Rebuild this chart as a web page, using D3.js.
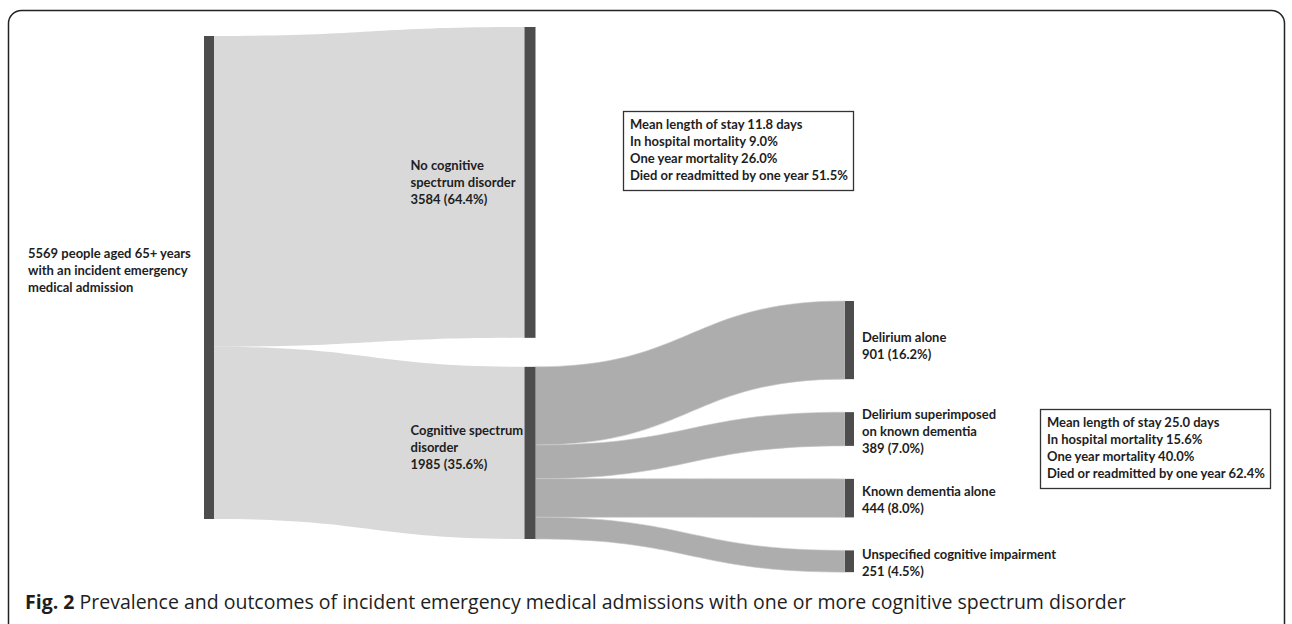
<!DOCTYPE html>
<html>
<head>
<meta charset="utf-8">
<script src="https://cdn.jsdelivr.net/npm/d3@7"></script>
<style>
body{margin:0;background:#fff;}
svg text{font-family:Lato,"Open Sans",sans-serif;fill:#1e1e1e;}
.lbl{font-weight:700;font-size:13px;}
.cap{font-family:"Open Sans",sans-serif;font-size:19.5px;}
</style>
</head>
<body>
<svg id="chart" width="1292" height="624"></svg>
<script>
(function(){
// ---- data ----
var total = 5569;
var nodeIds = ["all", "none", "csd", "delirium", "dsd", "dementia", "unspec"];
var nodeColumn = [0, 1, 1, 2, 2, 2, 2];
var nodeText = [
	["5569 people aged 65+ years", "with an incident emergency", "medical admission"],
	["No cognitive", "spectrum disorder"],
	["Cognitive spectrum", "disorder"],
	["Delirium alone"],
	["Delirium superimposed", "on known dementia"],
	["Known dementia alone"],
	["Unspecified cognitive impairment"]
];
var linkSource = ["all", "all", "csd", "csd", "csd", "csd"];
var linkTarget = ["none", "csd", "delirium", "dsd", "dementia", "unspec"];
var linkValue = [3584, 1985, 901, 389, 444, 251];

var outcomeNames = ["Mean length of stay", "In hospital mortality", "One year mortality", "Died or readmitted by one year"];
var noneOutcomes = ["11.8 days", "9.0%", "26.0%", "51.5%"];
var csdOutcomes = ["25.0 days", "15.6%", "40.0%", "62.4%"];

var caption = "Prevalence and outcomes of incident emergency medical admissions with one or more cognitive spectrum disorder";

// ---- layout ----
var colX = d3.scaleLinear().domain([0, 2]).range([204, 845]);
var colW = [10, 11, 9];
var colTop = [36, 27, 301];
var colGap = [0, 29, 33];
var labelShift = {all: -7, none: 0, csd: -5, delirium: 6, dsd: 2, dementia: 2, unspec: 2};
var ky = d3.scaleLinear().domain([0, total]).range([0, 483]);
var pct = d3.format(".1%");
var LineH = 17;

var svg = d3.select("#chart");

// frame
svg.append("rect").attr("x", 8.5).attr("y", 10.5).attr("width", 1276).attr("height", 700)
		.attr("rx", 13).attr("fill", "none").attr("stroke", "#222").attr("stroke-width", 1.5);

var nodes = nodeIds.map(function(id, i){
	return {id: id, col: nodeColumn[i], text: nodeText[i], inV: 0, outV: 0};
});
var nodeHT = {};
nodes.forEach(function(n){ nodeHT[n.id] = n; });
var links = linkValue.map(function(v, i){
	var s = nodeHT[linkSource[i]], t = nodeHT[linkTarget[i]];
	s.outV += v; t.inV += v;
	return {source: s, target: t, value: v};
});

var colY = colTop.slice();
nodes.forEach(function(n){
	n.value = Math.max(n.inV, n.outV);
	n.x0 = colX(n.col); n.x1 = n.x0 + colW[n.col];
	n.y0 = colY[n.col]; n.y1 = n.y0 + ky(n.value);
	colY[n.col] = n.y1 + colGap[n.col];
	n.sy = n.y0; n.ty = n.y0;
});
links.forEach(function(l){
	var h = ky(l.value);
	l.sy0 = l.source.sy; l.sy1 = l.sy0 + h; l.source.sy = l.sy1;
	l.ty0 = l.target.ty; l.ty1 = l.ty0 + h; l.target.ty = l.ty1;
});

function linkPath(l){
	var x0 = l.source.x1, x1 = l.target.x0, xm = (x0 + x1) / 2;
	var p = d3.path();
	p.moveTo(x0, l.sy0);
	p.bezierCurveTo(xm, l.sy0, xm, l.ty0, x1, l.ty0);
	p.lineTo(x1, l.ty1);
	p.bezierCurveTo(xm, l.ty1, xm, l.sy1, x0, l.sy1);
	p.closePath();
	return p.toString();
}

svg.append("g").selectAll("path").data(links).enter().append("path")
		.attr("d", linkPath)
		.attr("fill", function(d){ return d.source.col === 0 ? "#d9d9d9" : "#adadad"; })
		.attr("stroke", function(d){ return d.source.col === 0 ? "none" : "#c8c8c8"; })
		.attr("stroke-width", 0.6);

svg.append("g").selectAll("rect").data(nodes).enter().append("rect")
		.attr("x", function(d){ return d.x0; })
		.attr("y", function(d){ return d.y0; })
		.attr("width", function(d){ return d.x1 - d.x0; })
		.attr("height", function(d){ return d.y1 - d.y0; })
		.attr("fill", "#4d4d4d");

// node labels
function labelX(n){
	if (n.col === 0) return 28;
	if (n.col === 1) return n.x0 - 114;
	return n.x1 + 8;
}
function multiText(g, x, yMid, lines, cls){
	var t = g.append("text").attr("class", cls);
	var y0 = yMid - (lines.length - 1) * LineH / 2;
	lines.forEach(function(s, i){
		t.append("tspan").attr("x", x).attr("y", y0 + i * LineH).attr("dy", "0.35em").text(s);
	});
	return t;
}
var labelG = svg.append("g");
nodes.forEach(function(n){
	var lines = n.text.slice();
	if (n.col > 0) lines.push(n.value + " (" + pct(n.value / total) + ")");
	multiText(labelG, labelX(n), (n.y0 + n.y1) / 2 + labelShift[n.id], lines, "lbl");
});

// outcome boxes
function outcomeBox(x, y, vals){
	var g = svg.append("g");
	var lines = outcomeNames.map(function(s, i){ return s + " " + vals[i]; });
	var t = multiText(g, x + 7, y + 13 + 1.5 * LineH, lines, "lbl");
	var bb = t.node().getBBox();
	g.insert("rect", "text").attr("x", x + 0.5).attr("y", y + 0.5)
			.attr("width", Math.round(bb.width + 12)).attr("height", 79)
			.attr("fill", "#fff").attr("stroke", "#333").attr("stroke-width", 1.3);
}
outcomeBox(623, 111, noneOutcomes);
outcomeBox(1040, 409, csdOutcomes);

// caption
var cap = svg.append("text").attr("class", "cap").attr("x", 25).attr("y", 609);
cap.append("tspan").attr("font-weight", 700).text("Fig. 2");
cap.append("tspan").text(" " + caption);
})();
</script>
</body>
</html>
